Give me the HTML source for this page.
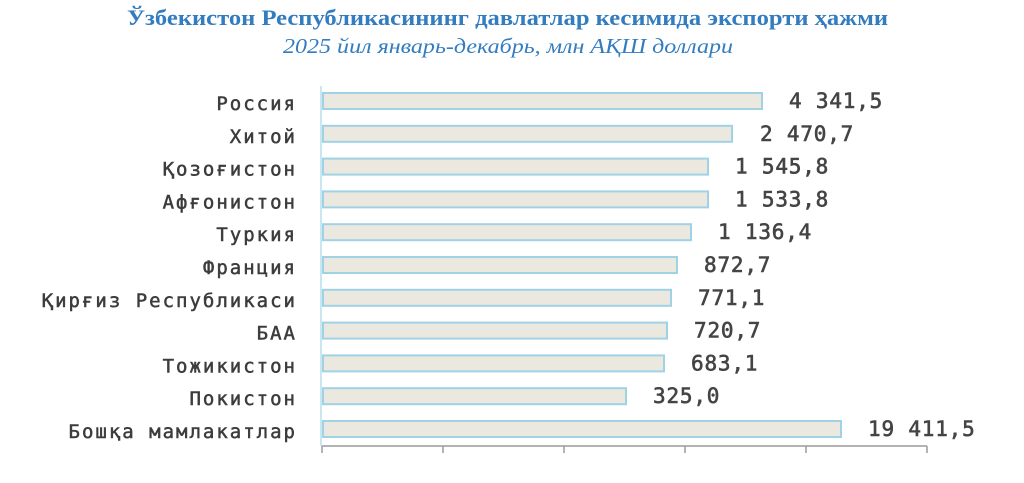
<!DOCTYPE html>
<html><head><meta charset="utf-8"><style>
html,body{margin:0;padding:0;background:#fff;}
svg{display:block;}
.t{font-family:"Liberation Serif","DejaVu Serif",serif;fill:#327cc0;}
.lb{font-family:"DejaVu Sans Mono","Liberation Mono",monospace;font-size:19px;fill:#3c3c3c;stroke:#3c3c3c;stroke-width:0.5;letter-spacing:2.0px;}
.v{font-family:"DejaVu Sans Mono","Liberation Mono",monospace;font-size:21px;fill:#444;stroke:#444;stroke-width:0.6;letter-spacing:0.8px;}
.bar{fill:#ebe8e0;stroke:#9fd2e4;stroke-width:2;}
</style></head><body>
<svg width="1024" height="483" viewBox="0 0 1024 483" xmlns="http://www.w3.org/2000/svg">
<text class="t" x="127" y="25" font-size="22" font-weight="bold" textLength="761" lengthAdjust="spacingAndGlyphs">Ўзбекистон Республикасининг давлатлар кесимида экспорти ҳажми</text>
<text class="t" x="283" y="53" font-size="21" font-style="italic" textLength="450" lengthAdjust="spacingAndGlyphs">2025 йил январь-декабрь, млн АҚШ доллари</text>

<line x1="321" y1="86" x2="321" y2="446" stroke="#c8e7f1" stroke-width="2"/>

<g>
<rect class="bar" x="323" y="93" width="439" height="16"/>
<rect class="bar" x="323" y="125.8" width="409" height="16"/>
<rect class="bar" x="323" y="158.6" width="385" height="16"/>
<rect class="bar" x="323" y="191.4" width="385" height="16"/>
<rect class="bar" x="323" y="224.2" width="368" height="16"/>
<rect class="bar" x="323" y="257" width="354" height="16"/>
<rect class="bar" x="323" y="289.8" width="348" height="16"/>
<rect class="bar" x="323" y="322.6" width="344" height="16"/>
<rect class="bar" x="323" y="355.4" width="341" height="16"/>
<rect class="bar" x="323" y="388.2" width="303" height="16"/>
<rect class="bar" x="323" y="421" width="518" height="16"/>
</g>

<g text-anchor="end">
<text class="lb" x="297" y="110">Россия</text>
<text class="lb" x="297" y="142.8">Хитой</text>
<text class="lb" x="297" y="175.6">Қозоғистон</text>
<text class="lb" x="297" y="208.4">Афғонистон</text>
<text class="lb" x="297" y="241.2">Туркия</text>
<text class="lb" x="297" y="274">Франция</text>
<text class="lb" x="297" y="306.8">Қирғиз Республикаси</text>
<text class="lb" x="297" y="339.6">БАА</text>
<text class="lb" x="297" y="372.4">Тожикистон</text>
<text class="lb" x="297" y="405.2">Покистон</text>
<text class="lb" x="297" y="438">Бошқа мамлакатлар</text>
</g>

<g>
<text class="v" x="789" y="108">4 341,5</text>
<text class="v" x="760" y="140.8">2 470,7</text>
<text class="v" x="735" y="173.6">1 545,8</text>
<text class="v" x="735" y="206.4">1 533,8</text>
<text class="v" x="718" y="239.2">1 136,4</text>
<text class="v" x="704" y="272">872,7</text>
<text class="v" x="698" y="304.8">771,1</text>
<text class="v" x="694" y="337.6">720,7</text>
<text class="v" x="691" y="370.4">683,1</text>
<text class="v" x="653" y="403.2">325,0</text>
<text class="v" x="868" y="436">19 411,5</text>
</g>

<g stroke="#9a9a9a" stroke-width="1.5">
<line x1="322" y1="446" x2="927" y2="446"/>
<line x1="322" y1="446" x2="322" y2="453"/>
<line x1="443" y1="446" x2="443" y2="453"/>
<line x1="564" y1="446" x2="564" y2="453"/>
<line x1="685" y1="446" x2="685" y2="453"/>
<line x1="806" y1="446" x2="806" y2="453"/>
<line x1="927" y1="446" x2="927" y2="453"/>
</g>
</svg>
</body></html>
